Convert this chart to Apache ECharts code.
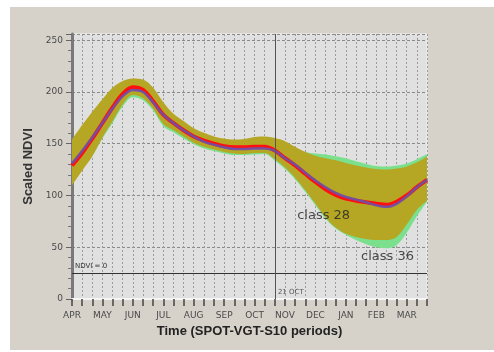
<!DOCTYPE html>
<html>
<head>
<meta charset="utf-8">
<script src="https://cdn.jsdelivr.net/npm/echarts@6/dist/echarts.min.js"></script>
<style>
  html, body { margin: 0; padding: 0; background: #ffffff; }
  #chart { position: absolute; left: 10px; top: 7px; width: 484px; height: 343px; }
</style>
</head>
<body>
<div id="chart"></div>
<script>
// Season runs April to March, three SPOT-VGT S10 periods (dekads) per month
const months = ['APR', 'MAY', 'JUN', 'JUL', 'AUG', 'SEP', 'OCT', 'NOV', 'DEC', 'JAN', 'FEB', 'MAR'];
const dekadDays = ['1', '11', '21'];

// Class 28: mean profile and envelope
const class28Mean  = [129, 141, 155, 170, 185, 198, 204.5, 202, 191, 178, 170, 163, 157, 153, 150, 147.5, 146.5, 146.5,
                      147, 147, 143.5, 136, 129, 121, 113, 106, 100.5, 97, 95, 93.5, 92, 91, 94, 100, 108, 115];
const class28Upper = [154, 168, 181, 193, 204, 210.5, 213, 212, 204, 190, 179, 172, 165, 160.5, 157, 155, 154, 154.5,
                      156.5, 157, 155.5, 152.5, 147, 142, 138.5, 136, 134, 131.5, 129, 127, 125.5, 125, 126, 128, 132, 138];
const class28Lower = [110, 124, 138, 156, 172, 188, 197, 194, 184, 169, 163, 157, 151, 147, 144.5, 142, 140.5, 140,
                      141, 141, 135, 127, 117, 105, 92, 79, 69, 63, 60, 58, 57, 57, 60, 72, 86, 95];

// Class 36: mean profile and envelope
const class36Mean  = [131, 143, 156, 170, 184, 196, 202, 200, 190, 178, 170, 163, 157, 152, 149, 146.5, 145, 145,
                      145.5, 145.5, 143, 136, 130, 122, 114.5, 108, 102.5, 98.5, 96, 93.5, 90.5, 89, 92, 99, 108, 115];
const class36Upper = [150, 164, 177, 189, 199, 205, 207, 206, 200, 187, 177, 170, 163, 158, 155, 153, 152, 152,
                      153, 154, 153, 150, 145, 142, 140.5, 139.5, 138, 136, 133, 130.5, 128.5, 128, 129, 131, 135, 140];
const class36Lower = [112, 125, 138, 155, 170, 186, 195, 192, 182, 167, 161, 155, 149.5, 145.5, 143, 140.5, 139, 139,
                      139.5, 140, 133.5, 125.5, 115.5, 103.5, 90.5, 77.5, 68, 62, 57, 53, 50, 49, 52, 64, 80, 94];

// Reference levels
const ndviZero = 25;       // scaled value of NDVI = 0
const markedPeriod = 20;   // dekad index of 21 OCT
const yTickLabels = [0, 50, 100, 150, 200, 250];

// one category per dekad: "1 APR", "11 APR", "21 APR", ...
const periods = months.flatMap(m => dekadDays.map(d => d + ' ' + m));
const lastPeriod = periods.length - 1;
const spread = (hi, lo) => hi.map((v, i) => v - lo[i]);

const FONT = 'DejaVu Sans';
const hidden = { opacity: 0, width: 0 };
const SMOOTH = 0.35;

function band(stack, lower, upper, color) {
  return [
    { type: 'line', stack, data: lower, smooth: SMOOTH, showSymbol: false, silent: true,
      lineStyle: hidden, z: 1 },
    { type: 'line', stack, data: spread(upper, lower), smooth: SMOOTH, showSymbol: false, silent: true,
      lineStyle: hidden, areaStyle: { color, opacity: 1 }, z: 1 }
  ];
}

const chart = echarts.init(document.getElementById('chart'), null, { renderer: 'canvas' });

chart.setOption({
  backgroundColor: '#d6d2ca',
  animation: false,
  grid: {
    left: 62, top: 27, right: 67, bottom: 51,
    show: true, backgroundColor: '#e0e0e0', borderColor: '#f4f4f4', borderWidth: 1
  },
  xAxis: [
    {
      type: 'category', data: periods, boundaryGap: false,
      name: 'Time (SPOT-VGT-S10 periods)', nameLocation: 'middle', nameGap: 25,
      nameTextStyle: { fontFamily: 'Liberation Sans', fontWeight: 'bold', fontSize: 13, color: '#222' },
      axisLine: { show: true, onZero: false, lineStyle: { color: '#f6f6f6', width: 2 } },
      axisTick: { show: true, interval: 0, length: 7, lineStyle: { color: '#444', width: 1.5 } },
      axisLabel: {
        fontFamily: FONT, fontSize: 9, color: '#4a4a4a', margin: 12,
        interval: i => i % dekadDays.length === 0,
        formatter: v => v.split(' ')[1]
      },
      splitLine: { show: true, interval: 0, lineStyle: { color: '#9a9a9a', type: [2, 2], width: 1 } }
    },
    {
      // continuous twin of the period axis, used to place text annotations
      type: 'value', min: 0, max: lastPeriod, show: false, position: 'bottom'
    }
  ],
  yAxis: {
    type: 'value', min: 0, max: 256, interval: 50,
    name: 'Scaled NDVI', nameLocation: 'middle', nameGap: 33,
    nameTextStyle: { fontFamily: 'Liberation Sans', fontWeight: 'bold', fontSize: 13, color: '#333' },
    axisLine: { show: true, lineStyle: { color: '#7a7a7a', width: 3 } },
    axisTick: { show: true, length: 6, lineStyle: { color: '#666', width: 1 } },
    minorTick: { show: true, splitNumber: 5, length: 4, lineStyle: { color: '#777', width: 1 } },
    axisLabel: {
      fontFamily: FONT, fontSize: 9, color: '#4a4a4a', margin: 9,
      formatter: v => (yTickLabels.includes(v) ? String(v) : '')
    },
    splitLine: { show: true, lineStyle: { color: '#8a8a8a', type: [3, 2], width: 1 } }
  },
  series: [
    ...band('c36', class36Lower, class36Upper, '#7be08e'),
    ...band('c28', class28Lower, class28Upper, '#b5a624'),
    {
      name: 'class 28', type: 'line', data: class28Mean, smooth: SMOOTH, showSymbol: false,
      lineStyle: { color: '#ff1010', width: 4 }, z: 3,
      markLine: {
        silent: true, symbol: 'none', animation: false,
        data: [
          { yAxis: ndviZero, lineStyle: { color: '#333', width: 1, type: 'solid' },
            label: { show: true, position: 'insideStartTop', formatter: 'NDVI = 0', distance: 3,
                     fontFamily: FONT, fontSize: 7, color: '#333' } },
          { xAxis: markedPeriod, lineStyle: { color: '#555', width: 1, type: 'solid' },
            label: { show: false } }
        ]
      }
    },
    {
      name: 'class 36', type: 'line', data: class36Mean, smooth: SMOOTH, showSymbol: false,
      lineStyle: { color: '#7050a6', width: 2.5, opacity: 0.95 }, z: 4
    },
    {
      // text annotations placed in data space
      type: 'scatter', xAxisIndex: 1, symbolSize: 0, silent: true, z: 5,
      label: { show: true, position: 'right', distance: 0, fontFamily: FONT, color: '#222' },
      data: [
        { value: [22.2, 80.1], label: { formatter: 'class 28', fontSize: 13 } },
        { value: [28.5, 41.4], label: { formatter: 'class 36', fontSize: 13 } },
        { value: [20.3, 6.5], label: { formatter: '21 OCT', fontSize: 7, color: '#333' } }
      ]
    }
  ]
});
</script>
</body>
</html>
